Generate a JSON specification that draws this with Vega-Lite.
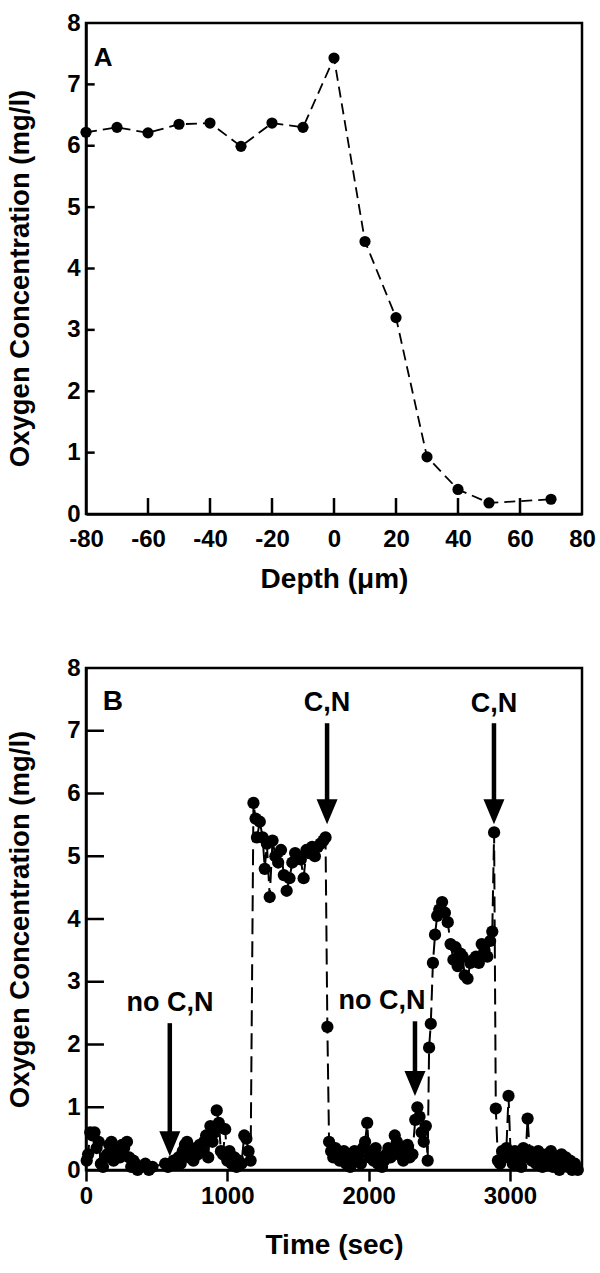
{
  "$schema": "https://vega.github.io/schema/vega-lite/v6.json",
  "background": "white",
  "padding": {"left": 5, "top": 9, "right": 5, "bottom": 5},
  "bounds": "flush",
  "spacing": 154,
  "datasets": {
    "depth": [
      {"depth": -80, "o2": 6.22}, {"depth": -70, "o2": 6.30}, {"depth": -60, "o2": 6.21},
      {"depth": -50, "o2": 6.35}, {"depth": -40, "o2": 6.37}, {"depth": -30, "o2": 5.99},
      {"depth": -20, "o2": 6.37}, {"depth": -10, "o2": 6.30}, {"depth": 0, "o2": 7.43},
      {"depth": 10, "o2": 4.44}, {"depth": 20, "o2": 3.2}, {"depth": 30, "o2": 0.93},
      {"depth": 40, "o2": 0.40}, {"depth": 50, "o2": 0.18}, {"depth": 70, "o2": 0.24}
    ],
    "time": [
      {"t": 5, "o2": 0.15}, {"t": 15, "o2": 0.25}, {"t": 30, "o2": 0.6}, {"t": 45, "o2": 0.55},
      {"t": 60, "o2": 0.6}, {"t": 75, "o2": 0.35}, {"t": 90, "o2": 0.45}, {"t": 105, "o2": 0.1},
      {"t": 120, "o2": 0.05}, {"t": 135, "o2": 0.2}, {"t": 150, "o2": 0.25}, {"t": 165, "o2": 0.4},
      {"t": 180, "o2": 0.45}, {"t": 195, "o2": 0.15}, {"t": 210, "o2": 0.3}, {"t": 225, "o2": 0.3},
      {"t": 240, "o2": 0.2}, {"t": 255, "o2": 0.4}, {"t": 270, "o2": 0.35}, {"t": 290, "o2": 0.45},
      {"t": 305, "o2": 0.2}, {"t": 320, "o2": 0.05}, {"t": 335, "o2": 0.15}, {"t": 350, "o2": 0.1},
      {"t": 365, "o2": 0.0}, {"t": 390, "o2": 0.05}, {"t": 420, "o2": 0.1}, {"t": 445, "o2": 0.0},
      {"t": 470, "o2": 0.05}, {"t": 560, "o2": 0.1}, {"t": 580, "o2": 0.05}, {"t": 600, "o2": 0.1},
      {"t": 620, "o2": 0.15}, {"t": 640, "o2": 0.1}, {"t": 655, "o2": 0.2}, {"t": 670, "o2": 0.1},
      {"t": 685, "o2": 0.3}, {"t": 700, "o2": 0.4}, {"t": 715, "o2": 0.45}, {"t": 730, "o2": 0.2},
      {"t": 745, "o2": 0.3}, {"t": 760, "o2": 0.15}, {"t": 775, "o2": 0.35}, {"t": 790, "o2": 0.25},
      {"t": 805, "o2": 0.4}, {"t": 820, "o2": 0.3}, {"t": 835, "o2": 0.45}, {"t": 850, "o2": 0.55},
      {"t": 865, "o2": 0.2}, {"t": 880, "o2": 0.7}, {"t": 895, "o2": 0.45}, {"t": 910, "o2": 0.6},
      {"t": 925, "o2": 0.95}, {"t": 940, "o2": 0.75}, {"t": 955, "o2": 0.3}, {"t": 970, "o2": 0.25},
      {"t": 985, "o2": 0.65}, {"t": 1000, "o2": 0.15}, {"t": 1015, "o2": 0.3}, {"t": 1030, "o2": 0.1},
      {"t": 1050, "o2": 0.2}, {"t": 1065, "o2": 0.05}, {"t": 1080, "o2": 0.15}, {"t": 1100, "o2": 0.1},
      {"t": 1120, "o2": 0.55}, {"t": 1135, "o2": 0.5}, {"t": 1150, "o2": 0.3}, {"t": 1165, "o2": 0.15},
      {"t": 1185, "o2": 5.85}, {"t": 1200, "o2": 5.6}, {"t": 1210, "o2": 5.3}, {"t": 1230, "o2": 5.55},
      {"t": 1250, "o2": 5.3}, {"t": 1265, "o2": 4.8}, {"t": 1280, "o2": 5.2}, {"t": 1300, "o2": 4.35},
      {"t": 1320, "o2": 5.25}, {"t": 1340, "o2": 5.0}, {"t": 1360, "o2": 4.9}, {"t": 1380, "o2": 5.1},
      {"t": 1400, "o2": 4.7}, {"t": 1420, "o2": 4.45}, {"t": 1440, "o2": 4.65}, {"t": 1460, "o2": 4.9},
      {"t": 1480, "o2": 5.05}, {"t": 1500, "o2": 5.0}, {"t": 1520, "o2": 4.95}, {"t": 1540, "o2": 4.65},
      {"t": 1560, "o2": 5.1}, {"t": 1580, "o2": 5.05}, {"t": 1600, "o2": 5.15}, {"t": 1620, "o2": 5.0},
      {"t": 1640, "o2": 5.15}, {"t": 1660, "o2": 5.2}, {"t": 1680, "o2": 5.25}, {"t": 1695, "o2": 5.3},
      {"t": 1708, "o2": 2.28}, {"t": 1720, "o2": 0.45}, {"t": 1735, "o2": 0.3}, {"t": 1750, "o2": 0.2},
      {"t": 1765, "o2": 0.35}, {"t": 1780, "o2": 0.25}, {"t": 1795, "o2": 0.15}, {"t": 1810, "o2": 0.2},
      {"t": 1825, "o2": 0.3}, {"t": 1840, "o2": 0.1}, {"t": 1855, "o2": 0.25}, {"t": 1870, "o2": 0.05},
      {"t": 1885, "o2": 0.2}, {"t": 1900, "o2": 0.3}, {"t": 1915, "o2": 0.15}, {"t": 1930, "o2": 0.25},
      {"t": 1945, "o2": 0.1}, {"t": 1960, "o2": 0.35}, {"t": 1975, "o2": 0.45}, {"t": 1990, "o2": 0.75},
      {"t": 2005, "o2": 0.2}, {"t": 2020, "o2": 0.3}, {"t": 2035, "o2": 0.15}, {"t": 2050, "o2": 0.35},
      {"t": 2065, "o2": 0.1}, {"t": 2080, "o2": 0.2}, {"t": 2095, "o2": 0.05}, {"t": 2110, "o2": 0.15},
      {"t": 2125, "o2": 0.25}, {"t": 2140, "o2": 0.35}, {"t": 2155, "o2": 0.2}, {"t": 2170, "o2": 0.3},
      {"t": 2185, "o2": 0.55}, {"t": 2200, "o2": 0.45}, {"t": 2215, "o2": 0.25}, {"t": 2230, "o2": 0.35},
      {"t": 2245, "o2": 0.15}, {"t": 2260, "o2": 0.3}, {"t": 2275, "o2": 0.4}, {"t": 2290, "o2": 0.2},
      {"t": 2310, "o2": 0.25}, {"t": 2330, "o2": 0.8}, {"t": 2345, "o2": 1.0}, {"t": 2360, "o2": 0.85},
      {"t": 2375, "o2": 0.6}, {"t": 2390, "o2": 0.45}, {"t": 2405, "o2": 0.7}, {"t": 2418, "o2": 0.15},
      {"t": 2428, "o2": 1.95}, {"t": 2440, "o2": 2.33}, {"t": 2455, "o2": 3.3}, {"t": 2470, "o2": 3.75},
      {"t": 2485, "o2": 4.05}, {"t": 2500, "o2": 4.15}, {"t": 2520, "o2": 4.27}, {"t": 2540, "o2": 4.1},
      {"t": 2560, "o2": 3.95}, {"t": 2580, "o2": 3.6}, {"t": 2600, "o2": 3.35}, {"t": 2615, "o2": 3.55},
      {"t": 2630, "o2": 3.25}, {"t": 2650, "o2": 3.45}, {"t": 2665, "o2": 3.4}, {"t": 2680, "o2": 3.1},
      {"t": 2700, "o2": 3.05}, {"t": 2720, "o2": 3.3}, {"t": 2740, "o2": 3.35}, {"t": 2760, "o2": 3.4},
      {"t": 2780, "o2": 3.3}, {"t": 2800, "o2": 3.6}, {"t": 2820, "o2": 3.5}, {"t": 2840, "o2": 3.4},
      {"t": 2860, "o2": 3.65}, {"t": 2875, "o2": 3.8}, {"t": 2888, "o2": 5.38}, {"t": 2900, "o2": 0.98},
      {"t": 2915, "o2": 0.15}, {"t": 2930, "o2": 0.1}, {"t": 2945, "o2": 0.3}, {"t": 2960, "o2": 0.2},
      {"t": 2975, "o2": 0.35}, {"t": 2990, "o2": 1.18}, {"t": 3005, "o2": 0.25}, {"t": 3020, "o2": 0.1},
      {"t": 3035, "o2": 0.3}, {"t": 3050, "o2": 0.15}, {"t": 3065, "o2": 0.25}, {"t": 3080, "o2": 0.05},
      {"t": 3095, "o2": 0.35}, {"t": 3110, "o2": 0.2}, {"t": 3125, "o2": 0.82}, {"t": 3140, "o2": 0.3},
      {"t": 3155, "o2": 0.15}, {"t": 3170, "o2": 0.25}, {"t": 3185, "o2": 0.1}, {"t": 3200, "o2": 0.3},
      {"t": 3215, "o2": 0.15}, {"t": 3230, "o2": 0.05}, {"t": 3245, "o2": 0.2}, {"t": 3260, "o2": 0.25},
      {"t": 3275, "o2": 0.1}, {"t": 3290, "o2": 0.3}, {"t": 3305, "o2": 0.05}, {"t": 3320, "o2": 0.2},
      {"t": 3335, "o2": 0.15}, {"t": 3350, "o2": 0.0}, {"t": 3365, "o2": 0.25}, {"t": 3380, "o2": 0.1},
      {"t": 3395, "o2": 0.2}, {"t": 3410, "o2": 0.05}, {"t": 3425, "o2": 0.15}, {"t": 3440, "o2": 0.0},
      {"t": 3460, "o2": 0.1}, {"t": 3480, "o2": 0.0}
    ],
    "arrows": [
      {"t": 593, "top": 2.34, "head": 0.42},
      {"t": 2328, "top": 2.37, "head": 1.38},
      {"t": 1706, "top": 7.12, "head": 5.71},
      {"t": 2887, "top": 7.12, "head": 5.71}
    ],
    "notes": [
      {"t": 594, "o2": 2.66, "label": "no C,N"},
      {"t": 2095, "o2": 2.69, "label": "no C,N"},
      {"t": 1706, "o2": 7.44, "label": "C,N"},
      {"t": 2888, "o2": 7.43, "label": "C,N"}
    ],
    "yticks": [{"v": 1}, {"v": 2}, {"v": 3}, {"v": 4}, {"v": 5}, {"v": 6}, {"v": 7}],
    "depthticks": [{"v": -60}, {"v": -40}, {"v": -20}, {"v": 0}, {"v": 20}, {"v": 40}, {"v": 60}],
    "panelA": [{"depth": -74.5, "o2": 7.43, "label": "A"}],
    "panelB": [{"t": 190, "o2": 7.46, "label": "B"}]
  },
  "vconcat": [
    {
      "width": 496,
      "height": 491,
      "layer": [
        {
          "data": {"name": "depth"},
          "mark": {"type": "line", "color": "black", "strokeWidth": 1.8, "strokeDash": [11, 6]},
          "encoding": {
            "x": {"field": "depth", "type": "quantitative", "scale": {"domain": [-80, 80], "nice": false},
              "axis": {"title": "Depth (μm)", "values": [-80, -60, -40, -20, 0, 20, 40, 60, 80], "labelExpr": "datum.value + ''", "labelFlush": false, "ticks": false, "tickSize": 0, "labelPadding": 13, "titlePadding": 14}},
            "y": {"field": "o2", "type": "quantitative", "scale": {"domain": [0, 8], "nice": false},
              "axis": {"title": "Oxygen Concentration (mg/l)", "values": [0, 1, 2, 3, 4, 5, 6, 7, 8], "labelExpr": "datum.value + ''", "labelFlush": false, "ticks": false, "tickSize": 0, "labelPadding": 6, "titlePadding": 32, "titleY": 255}}
          }
        },
        {
          "data": {"name": "yticks"},
          "mark": {"type": "rule", "color": "black", "strokeWidth": 2.5},
          "encoding": {
            "y": {"field": "v", "type": "quantitative"},
            "x": {"datum": -80},
            "x2": {"datum": -77.2}
          }
        },
        {
          "data": {"name": "depthticks"},
          "mark": {"type": "rule", "color": "black", "strokeWidth": 2.5},
          "encoding": {
            "x": {"field": "v", "type": "quantitative"},
            "y": {"datum": 0},
            "y2": {"datum": 0.26}
          }
        },
        {
          "data": {"name": "depth"},
          "mark": {"type": "point", "filled": true, "color": "black", "opacity": 1, "size": 125},
          "encoding": {
            "x": {"field": "depth", "type": "quantitative"},
            "y": {"field": "o2", "type": "quantitative"}
          }
        },
        {
          "data": {"name": "panelA"},
          "mark": {"type": "text", "font": "Liberation Sans", "fontWeight": "bold", "fontSize": 26, "color": "black", "align": "center", "baseline": "middle"},
          "encoding": {
            "x": {"field": "depth", "type": "quantitative"},
            "y": {"field": "o2", "type": "quantitative"},
            "text": {"field": "label"}
          }
        }
      ]
    },
    {
      "width": 496,
      "height": 502,
      "layer": [
        {
          "data": {"name": "time"},
          "mark": {"type": "line", "color": "black", "strokeWidth": 2, "strokeDash": [16, 7]},
          "encoding": {
            "x": {"field": "t", "type": "quantitative", "scale": {"domain": [0, 3510], "nice": false},
              "axis": {"title": "Time (sec)", "values": [0, 1000, 2000, 3000], "labelExpr": "datum.value + ''", "labelFlush": false, "ticks": true, "tickSize": 11, "tickColor": "black", "tickWidth": 2.5, "labelPadding": 3, "titlePadding": 23}},
            "y": {"field": "o2", "type": "quantitative", "scale": {"domain": [0, 8], "nice": false},
              "axis": {"title": "Oxygen Concentration (mg/l)", "values": [0, 1, 2, 3, 4, 5, 6, 7, 8], "labelExpr": "datum.value + ''", "labelFlush": false, "ticks": false, "tickSize": 0, "labelPadding": 6, "titlePadding": 32}}
          }
        },
        {
          "data": {"name": "yticks"},
          "mark": {"type": "rule", "color": "black", "strokeWidth": 2.5},
          "encoding": {
            "y": {"field": "v", "type": "quantitative"},
            "x": {"datum": 0},
            "x2": {"datum": 127}
          }
        },
        {
          "data": {"name": "time"},
          "mark": {"type": "point", "filled": true, "color": "black", "opacity": 1, "size": 150},
          "encoding": {
            "x": {"field": "t", "type": "quantitative"},
            "y": {"field": "o2", "type": "quantitative"}
          }
        },
        {
          "data": {"name": "arrows"},
          "mark": {"type": "rule", "color": "black", "strokeWidth": 4.5},
          "encoding": {
            "x": {"field": "t", "type": "quantitative"},
            "y": {"field": "top", "type": "quantitative"},
            "y2": {"field": "head"}
          }
        },
        {
          "data": {"name": "arrows"},
          "mark": {"type": "point", "filled": true, "color": "black", "opacity": 1, "shape": "M-0.84,-1L0.84,-1L0,1Z", "size": 625},
          "encoding": {
            "x": {"field": "t", "type": "quantitative"},
            "y": {"field": "head", "type": "quantitative"}
          }
        },
        {
          "data": {"name": "notes"},
          "mark": {"type": "text", "font": "Liberation Sans", "fontWeight": "bold", "fontSize": 27, "color": "black", "align": "center", "baseline": "middle"},
          "encoding": {
            "x": {"field": "t", "type": "quantitative"},
            "y": {"field": "o2", "type": "quantitative"},
            "text": {"field": "label"}
          }
        },
        {
          "data": {"name": "panelB"},
          "mark": {"type": "text", "font": "Liberation Sans", "fontWeight": "bold", "fontSize": 28, "color": "black", "align": "center", "baseline": "middle"},
          "encoding": {
            "x": {"field": "t", "type": "quantitative"},
            "y": {"field": "o2", "type": "quantitative"},
            "text": {"field": "label"}
          }
        }
      ]
    }
  ],
  "config": {
    "view": {"stroke": "black", "strokeWidth": 2.5},
    "axis": {
      "domainColor": "black", "domainWidth": 2.5,
      "labelColor": "black", "titleColor": "black",
      "labelFont": "Liberation Sans", "titleFont": "Liberation Sans",
      "labelFontWeight": "bold", "titleFontWeight": "bold",
      "labelFontSize": 24, "titleFontSize": 28, "grid": false
    },
    "axisY": {"titleFontSize": 27.5}
  }
}
